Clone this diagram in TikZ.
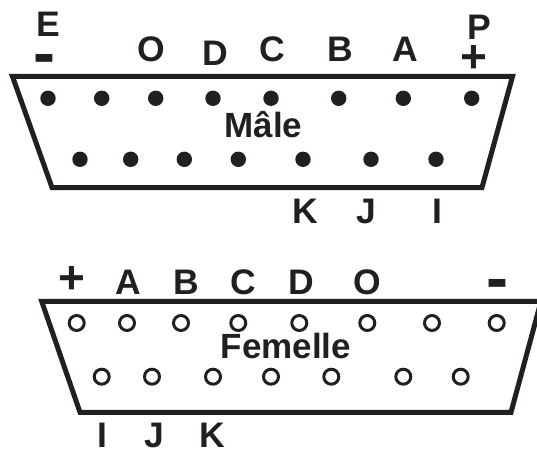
\documentclass[tikz,border=0pt]{standalone}
\usepackage{fontspec}
\setmainfont{Liberation Sans}
\definecolor{ink}{HTML}{231F20}
\tikzset{
  shell/.style={draw=ink,line width=5pt,line join=miter},
  pinm/.style={circle,fill=ink,inner sep=0pt,minimum size=15.4pt},
  pinf/.style={circle,draw=ink,line width=3pt,fill=white,inner sep=0pt,minimum size=15pt},
  lab/.style={text=ink,inner sep=0pt,anchor=base,font=\fontsize{35.5}{36}\selectfont\bfseries},
  titre/.style={text=ink,inner sep=0pt,anchor=base,font=\fontsize{35}{35}\selectfont\bfseries},
  plussign/.style={text=ink,inner sep=0pt,anchor=base,font=\fontsize{46}{46}\selectfont\bfseries},
  minussign/.style={text=ink,inner sep=0pt,anchor=base,font=\fontsize{66}{66}\selectfont\bfseries}
}
\begin{document}
\begin{tikzpicture}[x=1pt,y=-1pt]
\useasboundingbox (0,0) rectangle (537,449);
\clip (0,0) rectangle (537,449);
% male
\draw[shell] (12.5,76.5) -- (512.5,76.5) -- (482,187.5) -- (52,187.5) -- cycle;
\foreach \n/\x in {a/48,b/101.7,c/155.7,d/213,e/271,f/338.7,g/403.3,h/471.7}
  \node[pinm] (mt\n) at (\x,98.3) {};
\foreach \n/\x in {a/80,b/130.7,c/184.3,d/238.3,e/303,f/371,g/436}
  \node[pinm] (mb\n) at (\x,159.3) {};
\node[titre] (male) at (263.5,137.7) {Mâle};
\node[lab] (mE) at (48.7,36.7) {E};
\node[minussign] (mminus) at (44.5,76) {-};
\node[lab] (mO) at (151,61.5) {O};
\node[lab] (mD) at (215,65.7) {D};
\node[lab] (mC) at (272,61.5) {C};
\node[lab] (mB) at (340,61.7) {B};
\node[lab] (mA) at (405,61.7) {A};
\node[lab] (mP) at (479,40) {P};
\node[plussign] (mplus) at (474,72.7) {+};
\node[lab] (mK) at (305,223) {K};
\node[lab] (mJ) at (366,223) {J};
\node[lab] (mI) at (437,223) {I};
% femelle
\draw[shell] (41.7,301.3) -- (541,301.3) -- (511,412.3) -- (80,412.3) -- cycle;
\foreach \n/\x in {a/76.7,b/127,c/181,d/238.3,e/299.3,f/367.3,g/432,h/496.7}
  \node[pinf] (ft\n) at (\x,323) {};
\foreach \n/\x in {a/101.7,b/152,c/213,d/271,e/331.3,f/403.3,g/460.7}
  \node[pinf] (fb\n) at (\x,376.7) {};
\node[titre] (femelle) at (286,358) {Femelle};
\node[plussign] (fplus) at (71.7,293.8) {+};
\node[lab] (fA) at (128,294) {A};
\node[lab] (fB) at (186,294) {B};
\node[lab] (fC) at (243,294) {C};
\node[lab] (fD) at (301,294) {D};
\node[lab] (fO) at (367,294) {O};
\node[minussign] (fminus) at (497.3,300.5) {-};
\node[lab] (fI) at (102.7,447.5) {I};
\node[lab] (fJ) at (154,447.5) {J};
\node[lab] (fK) at (212,447.5) {K};
\end{tikzpicture}
\end{document}
